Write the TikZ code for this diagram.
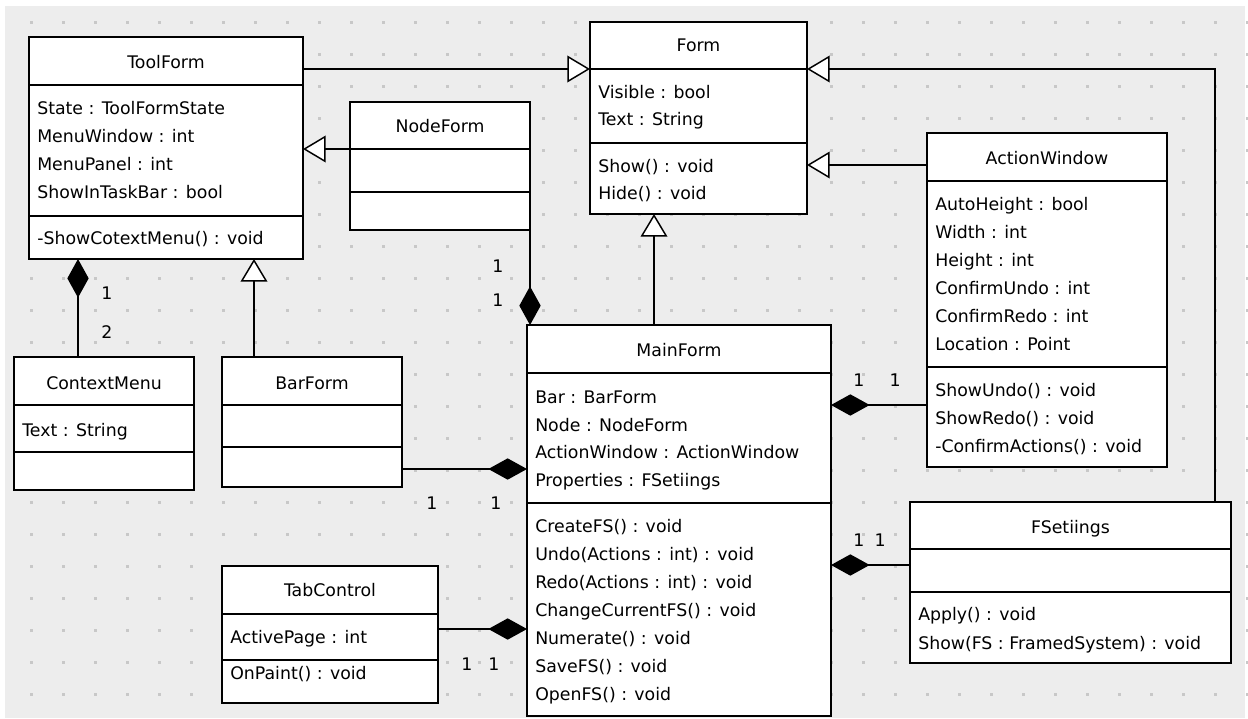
\documentclass[tikz,border=0pt]{standalone}
\usepackage{fontspec}
\setmainfont{DejaVu Sans}
\usetikzlibrary{arrows.meta}

\definecolor{canvas}{HTML}{EDEDED}
\definecolor{griddot}{HTML}{C8C8C8}

% class box: name, x1, y1, x2, y2, first separator y, second separator y
\newcommand\umlbox[7]{%
  \node[classbox, minimum width={(#4-#2)*0.75pt}, minimum height={(#5-#3)*0.75pt}]
    (#1) at ({(#2+#4)/2},{(#3+#5)/2}) {};
  \coordinate (#1-s1) at (#1.west |- 0,#6);
  \coordinate (#1-s2) at (#1.west |- 0,#7);
  \draw[boxline] (#1-s1) -- (#1.east |- #1-s1);
  \draw[boxline] (#1-s2) -- (#1.east |- #1-s2);
}
% centred class name: node name, x centre, y of cap centre, text
\newcommand\ctitle[4]{\node[titletext] (#1) at (#2,{#3+6.3}) {#4};}
% member line: node name, box left x, y of cap centre, text
\newcommand\member[4]{\node[membertext] (#1) at ({#2+8},{#3+6.3}) {#4};}

\tikzset{
  classbox/.style={draw=black, fill=white, line width=1.5pt, inner sep=0pt, outer sep=0pt},
  boxline/.style={line width=1.5pt, draw=black},
  titletext/.style={anchor=base, inner sep=0pt, font=\fontsize{13}{15}\selectfont},
  membertext/.style={anchor=base west, inner sep=0pt, font=\fontsize{13}{15}\selectfont},
  mult/.style={inner sep=0pt, font=\fontsize{13}{15}\selectfont},
  conn/.style={line width=1.1pt, draw=black},
  gen/.style={conn, -{Triangle[length=17pt, width=20pt, fill=white, line width=1.1pt]}},
  comp/.style={conn, -{Diamond[length=29pt, width=16pt, fill=black, line width=1.1pt]}},
}

\begin{document}
\begin{tikzpicture}[x=0.75pt, y=-0.75pt]
  \useasboundingbox (0,0) rectangle (1248,718);
  \fill[white] (0,0) rectangle (1248,718);
  \fill[canvas] (5,6) rectangle (1245,718);
  % dotted grid
  \foreach \i in {0,...,38}
    \foreach \j in {0,...,21}
      \fill[griddot] ({31+32*\i-1.5},{22+32*\j-1.5}) rectangle ++(3,3);

  % ---- classes ----
  \umlbox{toolform}{29}{37}{303}{259}{85}{216}
  \ctitle{toolform-t}{166}{62}{ToolForm}
  \member{toolform-a1}{29}{108}{State : ToolFormState}
  \member{toolform-a2}{29}{136}{MenuWindow : int}
  \member{toolform-a3}{29}{164}{MenuPanel : int}
  \member{toolform-a4}{29}{192}{ShowInTaskBar : bool}
  \member{toolform-m1}{29}{238}{-ShowCotextMenu() : void}

  \umlbox{form}{590}{22}{807}{214}{69}{143}
  \ctitle{form-t}{698.5}{45}{Form}
  \member{form-a1}{590}{92}{Visible : bool}
  \member{form-a2}{590}{119}{Text : String}
  \member{form-m1}{590}{166}{Show() : void}
  \member{form-m2}{590}{193}{Hide() : void}

  \umlbox{nodeform}{350}{102}{530}{230}{149}{192}
  \ctitle{nodeform-t}{440}{126}{NodeForm}

  \umlbox{actionwindow}{927}{133}{1167}{467}{181}{367}
  \ctitle{actionwindow-t}{1047}{158}{ActionWindow}
  \member{actionwindow-a1}{927}{204}{AutoHeight : bool}
  \member{actionwindow-a2}{927}{232}{Width : int}
  \member{actionwindow-a3}{927}{260}{Height : int}
  \member{actionwindow-a4}{927}{288}{ConfirmUndo : int}
  \member{actionwindow-a5}{927}{316}{ConfirmRedo : int}
  \member{actionwindow-a6}{927}{344}{Location : Point}
  \member{actionwindow-m1}{927}{390}{ShowUndo() : void}
  \member{actionwindow-m2}{927}{418}{ShowRedo() : void}
  \member{actionwindow-m3}{927}{446}{-ConfirmActions() : void}

  \umlbox{contextmenu}{14}{357}{194}{490}{405}{452}
  \ctitle{contextmenu-t}{104}{383}{ContextMenu}
  \member{contextmenu-a1}{14}{430}{Text : String}

  \umlbox{barform}{222}{357}{402}{487}{405}{447}
  \ctitle{barform-t}{312}{383}{BarForm}

  \umlbox{mainform}{527}{325}{831}{716}{373}{503}
  \ctitle{mainform-t}{679}{350}{MainForm}
  \member{mainform-a1}{527}{397}{Bar : BarForm}
  \member{mainform-a2}{527}{425}{Node : NodeForm}
  \member{mainform-a3}{527}{452}{ActionWindow : ActionWindow}
  \member{mainform-a4}{527}{480}{Properties : FSetiings}
  \member{mainform-m1}{527}{526}{CreateFS() : void}
  \member{mainform-m2}{527}{554}{Undo(Actions : int) : void}
  \member{mainform-m3}{527}{582}{Redo(Actions : int) : void}
  \member{mainform-m4}{527}{610}{ChangeCurrentFS() : void}
  \member{mainform-m5}{527}{638}{Numerate() : void}
  \member{mainform-m6}{527}{666}{SaveFS() : void}
  \member{mainform-m7}{527}{694}{OpenFS() : void}

  \umlbox{tabcontrol}{222}{566}{438}{703}{614}{660}
  \ctitle{tabcontrol-t}{330}{590}{TabControl}
  \member{tabcontrol-a1}{222}{637}{ActivePage : int}
  \member{tabcontrol-m1}{222}{673}{OnPaint() : void}

  \umlbox{fsetiings}{910}{502}{1231}{663}{549}{592}
  \ctitle{fsetiings-t}{1070.5}{527}{FSetiings}
  \member{fsetiings-m1}{910}{614}{Apply() : void}
  \member{fsetiings-m2}{910}{643}{Show(FS : FramedSystem) : void}

  % ---- generalizations ----
  \draw[gen] (toolform.east |- form-s1) -- (form-s1);
  \draw[gen] (nodeform-s1) -- (toolform.east |- nodeform-s1);
  \coordinate (aw-gen) at (actionwindow.west |- 0,165);
  \draw[gen] (aw-gen) -- (form.east |- aw-gen);
  \coordinate (mf-gen) at (mainform.north -| 654,0);
  \draw[gen] (mf-gen) -- (form.south -| mf-gen);
  \coordinate (fs-gen) at (fsetiings.north -| 1215,0);
  \draw[gen] (fs-gen) |- (form.east |- form-s1);
  \coordinate (bf-gen) at (barform.north -| 254,0);
  \draw[gen] (bf-gen) -- (toolform.south -| bf-gen);

  % ---- compositions ----
  \coordinate (cm-comp) at (contextmenu.north -| 78,0);
  \draw[comp] (cm-comp) -- (toolform.south -| cm-comp);
  \draw[comp] (nodeform.south east) -- (nodeform.south east |- mainform.north);
  \coordinate (bf-comp) at (barform.east |- 0,469);
  \draw[comp] (bf-comp) -- (mainform.west |- bf-comp);
  \coordinate (tc-comp) at (tabcontrol.east |- 0,629);
  \draw[comp] (tc-comp) -- (mainform.west |- tc-comp);
  \coordinate (aw-comp) at (actionwindow.west |- 0,405);
  \draw[comp] (aw-comp) -- (mainform.east |- aw-comp);
  \coordinate (fs-comp) at (fsetiings.west |- 0,565);
  \draw[comp] (fs-comp) -- (mainform.east |- fs-comp);

  % ---- multiplicities ----
  \node[mult] (m-nf1) at (498,266) {1};
  \node[mult] (m-nf2) at (498,300) {1};
  \node[mult] (m-cm1) at (107,293) {1};
  \node[mult] (m-cm2) at (107,332) {2};
  \node[mult] (m-bf1) at (432,503) {1};
  \node[mult] (m-bf2) at (496,503) {1};
  \node[mult] (m-tc1) at (467,664) {1};
  \node[mult] (m-tc2) at (494,664) {1};
  \node[mult] (m-aw1) at (859,380) {1};
  \node[mult] (m-aw2) at (895,380) {1};
  \node[mult] (m-fs1) at (859,540) {1};
  \node[mult] (m-fs2) at (880,540) {1};
\end{tikzpicture}
\end{document}
